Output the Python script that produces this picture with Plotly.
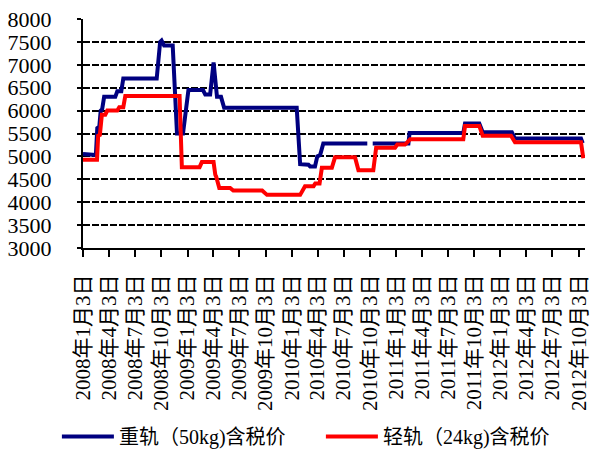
import plotly.graph_objects as go

# ---- data ----
heavy_dates = [
    "2008-01-03", "2008-02-17", "2008-02-22", "2008-02-29", "2008-03-05", "2008-03-10",
    "2008-03-17", "2008-04-25", "2008-05-02", "2008-05-16", "2008-05-23", "2008-09-17",
    "2008-09-29", "2008-10-04", "2008-10-13", "2008-11-12", "2008-11-27", "2008-12-18",
    "2009-01-06", "2009-02-26", "2009-03-06", "2009-03-23", "2009-04-04", "2009-04-16",
    "2009-04-30", "2009-05-11", "2010-01-20", "2010-02-01", "2010-03-02", "2010-03-08",
    "2010-03-25", "2010-04-02", "2010-04-12", "2010-04-23", "2010-09-24", "2010-10-03",
    "2010-10-13", "2011-02-15", "2011-02-19", "2011-08-26", "2011-09-01", "2011-10-21",
    "2011-11-02", "2012-02-12", "2012-02-23", "2012-10-11", "2012-10-17",
]
heavy_values = [
    5050, 5030, 5620, 5650, 6000, 6030,
    6300, 6300, 6420, 6420, 6700, 6700,
    7500, 7530, 7420, 7420, 5500, 5500,
    6450, 6450, 6350, 6350, 7050, 6300,
    6300, 6060, 6060, 4830, 4820, 4780,
    4780, 5000, 5030, 5280, 5280, None,
    5280, 5280, 5510, 5510, 5720, 5720,
    5530, 5530, 5390, 5390, 5290,
]

light_dates = [
    "2008-01-03", "2008-02-21", "2008-02-25", "2008-03-02", "2008-03-09", "2008-03-21",
    "2008-03-28", "2008-05-02", "2008-05-09", "2008-05-23", "2008-05-30", "2008-12-06",
    "2008-12-14", "2009-02-14", "2009-02-22", "2009-04-04", "2009-04-10", "2009-04-13",
    "2009-04-24", "2009-06-01", "2009-06-12", "2009-09-21", "2009-10-08", "2010-02-01",
    "2010-02-18", "2010-03-20", "2010-03-26", "2010-04-10", "2010-04-18", "2010-05-23",
    "2010-06-03", "2010-08-12", "2010-08-24", "2010-10-15", "2010-10-25", "2010-12-30",
    "2011-01-07", "2011-02-03", "2011-02-10", "2011-02-21", "2011-08-26", "2011-09-01",
    "2011-10-21", "2011-11-02", "2012-02-09", "2012-02-23", "2012-10-11", "2012-10-19",
]
light_values = [
    4925, 4925, 5450, 5470, 5910, 5910,
    6000, 6000, 6075, 6075, 6320, 6320,
    4765, 4765, 4875, 4875, 4600, 4560,
    4310, 4310, 4255, 4255, 4160, 4160,
    4350, 4350, 4410, 4410, 4750, 4750,
    4980, 4980, 4700, 4700, 5190, 5190,
    5260, 5260, 5300, 5375, 5375, 5665,
    5665, 5450, 5450, 5310, 5310, 4960,
]

tick_dates = [
    "2008-01-03", "2008-04-03", "2008-07-03", "2008-10-03",
    "2009-01-03", "2009-04-03", "2009-07-03", "2009-10-03",
    "2010-01-03", "2010-04-03", "2010-07-03", "2010-10-03",
    "2011-01-03", "2011-04-03", "2011-07-03", "2011-10-03",
    "2012-01-03", "2012-04-03", "2012-07-03", "2012-10-03",
]
tick_labels = [d[:4] + "年" + str(int(d[5:7])) + "月3日" for d in tick_dates]

y_ticks = [3000, 3500, 4000, 4500, 5000, 5500, 6000, 6500, 7000, 7500, 8000]

names = ["重轨（50kg)含税价", "轻轨（24kg)含税价"]

FONT = "'Liberation Serif', 'Noto Sans CJK SC'"

fig = go.Figure()
fig.add_trace(go.Scatter(
    x=heavy_dates, y=heavy_values, mode="lines", name=names[0],
    line=dict(color="#000080", width=4), connectgaps=False,
))
fig.add_trace(go.Scatter(
    x=light_dates, y=light_values, mode="lines", name=names[1],
    line=dict(color="#FF0000", width=4),
))

fig.update_layout(
    width=592, height=450,
    margin=dict(l=83, r=7, t=19, b=202, autoexpand=False),
    paper_bgcolor="white", plot_bgcolor="white",
    font=dict(family=FONT, size=20, color="black"),
    showlegend=True,
    legend=dict(
        orientation="h", x=-0.052, xanchor="left", y=-0.823, yanchor="middle",
        font=dict(family=FONT, size=20, color="black"),
        itemwidth=52, entrywidth=197, entrywidthmode="pixels",
        bgcolor="rgba(0,0,0,0)", borderwidth=0,
    ),
)
fig.update_xaxes(
    type="date", automargin=False,
    range=["2008-01-03", "2012-10-25"],
    tickmode="array", tickvals=tick_dates, ticktext=tick_labels,
    tickangle=-90,
    ticks="outside", ticklen=7, tickwidth=2, tickcolor="black",
    ticklabelstandoff=9,
    tickfont=dict(family=FONT, size=21, color="black"),
    showline=True, linecolor="black", linewidth=2,
    showgrid=False, zeroline=False,
)
fig.update_yaxes(
    automargin=False,
    range=[3000, 8000],
    tickmode="array", tickvals=y_ticks, ticktext=[str(v) for v in y_ticks],
    ticks="outside", ticklen=4, tickwidth=2, tickcolor="black",
    ticklabelstandoff=21,
    tickfont=dict(family=FONT, size=22, color="black"),
    showline=True, linecolor="black", linewidth=2,
    showgrid=True, gridcolor="black", gridwidth=1.5, griddash="7px,2px",
    zeroline=False,
)

fig.write_html(
    "out.html",
    config={"displayModeBar": False},
    post_script="document.body.style.margin='0';",
)
